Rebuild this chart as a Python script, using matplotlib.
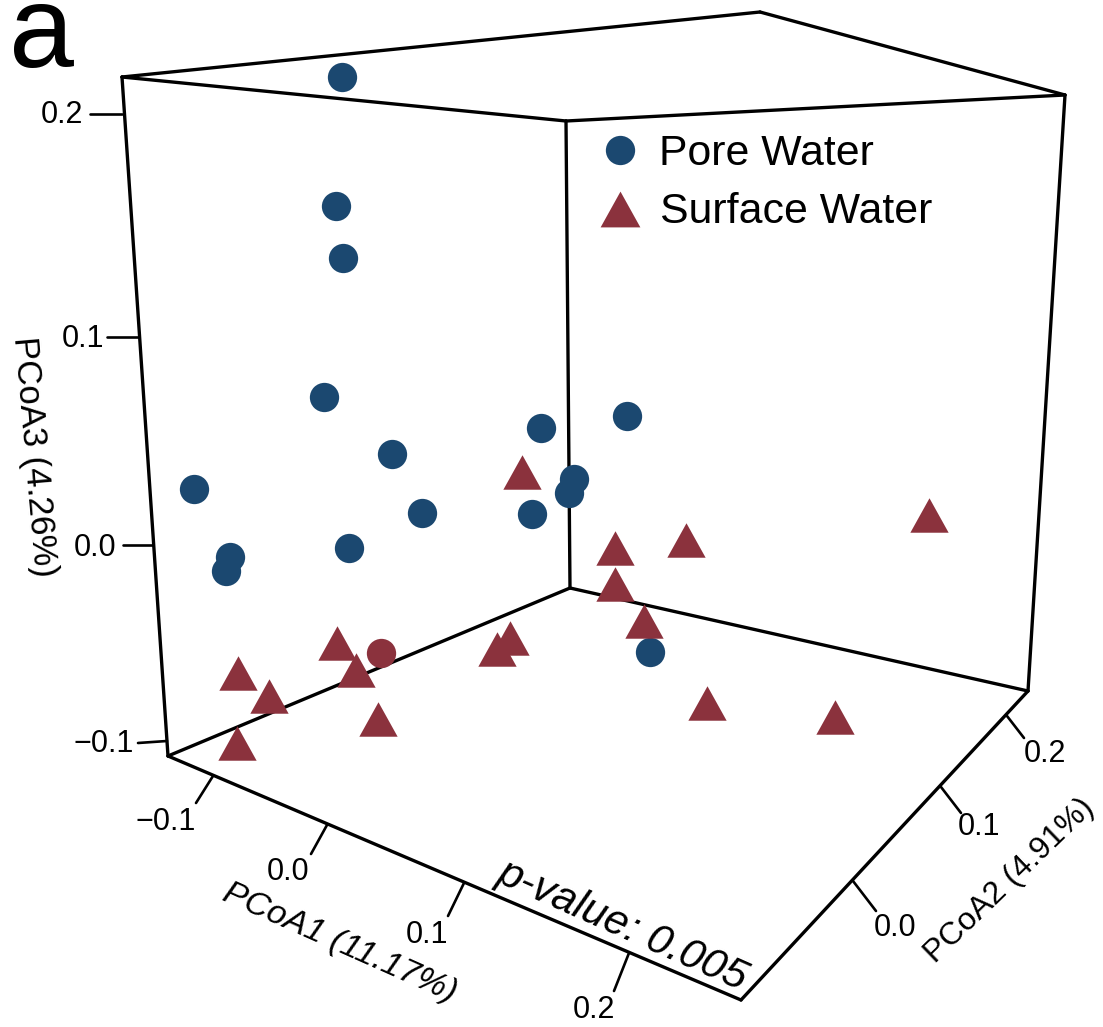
import matplotlib
matplotlib.use('Agg')
import matplotlib.pyplot as plt

plt.rcParams['font.family'] = ['Liberation Sans', 'DejaVu Sans']

# point positions
pore_x = [342, 336, 343, 324, 392, 422, 541, 627, 569, 574, 532, 194, 226, 230, 349, 650]
pore_y = [77, 206, 258, 397, 454, 513, 428, 416, 493, 479, 514, 489, 571, 557, 548, 652]
surface_x = [522, 615, 686, 929, 615, 644, 497, 510, 337, 356, 238, 269, 237, 378, 707, 835]
surface_y = [472, 548, 540, 515, 584, 621, 649, 638, 643, 670, 673, 696, 743, 719, 703, 717]
# one sample is a red circle in the original
odd_x = [381]
odd_y = [653]

tick_labels_1 = ['\u22120.1', '0.0', '0.1', '0.2']
tick_labels_2 = ['0.0', '0.1', '0.2']
tick_labels_3 = ['\u22120.1', '0.0', '0.1', '0.2']

blue = '#1b4870'
red = '#8b323d'
tri = [(-1, -0.9), (1, -0.9), (0, 0.9)]

fig = plt.figure(figsize=(11.03, 10.27), dpi=100)
ax = fig.add_axes([0, 0, 1, 1])
ax.set_xlim(0, 1103)
ax.set_ylim(1027, 0)
ax.axis('off')

def seg(p, q, lw=2.4):
    ax.plot([p[0], q[0]], [p[1], q[1]], color='k', lw=lw, solid_capstyle='round', zorder=1)

# box
tl, tb, tr, tf = (122, 77), (760, 12), (1065, 95), (566, 121)
bl, bb, br, bf = (168, 756), (570, 588), (1028, 691), (741, 1000)
for p, q in [(tl, tb), (tb, tr), (tr, tf), (tf, tl), (tl, bl), (tf, bb), (tr, br),
             (bl, bb), (bb, br), (br, bf), (bf, bl)]:
    seg(p, q)

# ticks and tick labels
ticks_1 = [((213, 776), (196, 803)), ((327, 825), (311, 854)), ((464, 883), (448, 916)), ((629, 953), (614, 991))]
pos_1 = [(166, 822), (288, 872), (427, 935), (594, 1010)]
for (p, q), (x, y), lab in zip(ticks_1, pos_1, tick_labels_1):
    seg(p, q, 1.9)
    ax.text(x, y, lab, fontsize=22, ha='center', va='center')

ticks_2 = [((853, 881), (876, 911)), ((941, 787), (961, 813)), ((1007, 716), (1024, 738))]
pos_2 = [(895, 928), (979, 827), (1045, 754)]
for (p, q), (x, y), lab in zip(ticks_2, pos_2, tick_labels_2):
    seg(p, q, 1.9)
    ax.text(x, y, lab, fontsize=22, ha='center', va='center')

ticks_3 = [((167, 741), (138, 743)), ((153, 545), (123, 545)), ((138, 337), (107, 337)), ((122, 114), (90, 114))]
pos_3 = [(104, 744), (95, 548), (83, 339), (62, 115)]
for (p, q), (x, y), lab in zip(ticks_3, pos_3, tick_labels_3):
    seg(p, q, 1.9)
    ax.text(x, y, lab, fontsize=22, ha='center', va='center')

# axis titles
ax.text(340, 943, 'PCoA1 (11.17%)', fontsize=24.5, style='italic', rotation=-24, rotation_mode='anchor',
        ha='center', va='center')
ax.text(1010, 881, 'PCoA2 (4.91%)', fontsize=23, rotation=44, rotation_mode='anchor',
        ha='center', va='center')
ax.text(34, 457, 'PCoA3 (4.26%)', fontsize=25, rotation=-85, rotation_mode='anchor',
        ha='center', va='center')
ax.text(622, 925, 'p-value: 0.005', fontsize=30.5, style='italic', rotation=-24, rotation_mode='anchor',
        ha='center', va='center')
ax.text(42, 67, 'a', fontsize=84, ha='center', va='baseline')

# points
ax.scatter(pore_x, pore_y, s=445, marker='o', color=blue, linewidths=0, zorder=3)
ax.scatter(odd_x, odd_y, s=445, marker='o', color=red, linewidths=0, zorder=3)
ax.scatter(surface_x, surface_y, s=760, marker=tri, color=red, linewidths=0, zorder=4)

# legend
ax.scatter([620], [150], s=445, marker='o', color=blue, linewidths=0, zorder=3)
ax.scatter([620], [209], s=820, marker=tri, color=red, linewidths=0, zorder=3)
ax.text(659, 154, 'Pore Water', fontsize=30.8, ha='left', va='center')
ax.text(660, 212, 'Surface Water', fontsize=30.8, ha='left', va='center')

fig.savefig('out.png', dpi=100)
